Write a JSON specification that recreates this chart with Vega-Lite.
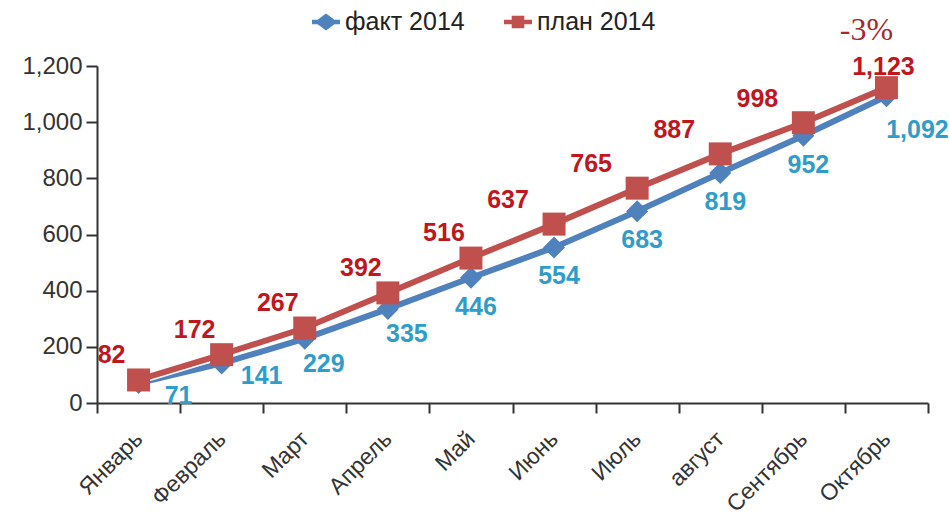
{
  "$schema": "https://vega.github.io/schema/vega-lite/v6.json",
  "autosize": "none",
  "width": 831,
  "height": 337,
  "padding": {"left": 97, "top": 66, "right": 21, "bottom": 118},
  "background": "white",
  "config": {
    "view": {"stroke": null},
    "font": "Liberation Sans",
    "axis": {"labelFont": "Liberation Sans", "labelFontSize": 24, "labelColor": "#333333", "domainColor": "#333333", "domainWidth": 2, "tickColor": "#333333", "tickWidth": 2, "grid": false, "title": null},
    "legend": {"labelFont": "Liberation Sans", "labelFontSize": 25, "labelColor": "#222222"}
  },
  "data": {
    "values": [
      {"month": "Январь", "series": "факт 2014", "value": 71},
      {"month": "Февраль", "series": "факт 2014", "value": 141},
      {"month": "Март", "series": "факт 2014", "value": 229},
      {"month": "Апрель", "series": "факт 2014", "value": 335},
      {"month": "Май", "series": "факт 2014", "value": 446},
      {"month": "Июнь", "series": "факт 2014", "value": 554},
      {"month": "Июль", "series": "факт 2014", "value": 683},
      {"month": "август", "series": "факт 2014", "value": 819},
      {"month": "Сентябрь", "series": "факт 2014", "value": 952},
      {"month": "Октябрь", "series": "факт 2014", "value": 1092},
      {"month": "Январь", "series": "план 2014", "value": 82},
      {"month": "Февраль", "series": "план 2014", "value": 172},
      {"month": "Март", "series": "план 2014", "value": 267},
      {"month": "Апрель", "series": "план 2014", "value": 392},
      {"month": "Май", "series": "план 2014", "value": 516},
      {"month": "Июнь", "series": "план 2014", "value": 637},
      {"month": "Июль", "series": "план 2014", "value": 765},
      {"month": "август", "series": "план 2014", "value": 887},
      {"month": "Сентябрь", "series": "план 2014", "value": 998},
      {"month": "Октябрь", "series": "план 2014", "value": 1123}
    ]
  },
  "encoding": {
    "x": {
      "field": "month", "type": "nominal",
      "sort": ["Январь", "Февраль", "Март", "Апрель", "Май", "Июнь", "Июль", "август", "Сентябрь", "Октябрь"],
      "scale": {"type": "band", "paddingInner": 0, "paddingOuter": 0},
      "axis": {"labelAngle": -45, "labelAlign": "right", "labelBaseline": "middle", "tickBand": "extent", "tickSize": 10, "labelPadding": 22, "labelFontSize": 23}
    },
    "y": {
      "field": "value", "type": "quantitative",
      "scale": {"domain": [0, 1200], "nice": false},
      "axis": {"values": [0, 200, 400, 600, 800, 1000, 1200], "format": ",.0f", "tickSize": 11, "labelPadding": 4, "labelFontSize": 24}
    }
  },
  "layer": [
    {
      "transform": [{"filter": "datum.series === 'факт 2014'"}],
      "mark": {"type": "line", "strokeWidth": 6},
      "encoding": {
        "color": {
          "field": "series", "type": "nominal",
          "scale": {"domain": ["факт 2014", "план 2014"], "range": ["#4f81bd", "#c0504d"]},
          "legend": {
            "title": null, "orient": "none", "direction": "horizontal", "legendX": 215, "legendY": -58,
            "padding": 0, "symbolSize": 784, "labelOffset": 5, "columnPadding": 39, "labelFontSize": 25,
            "encode": {"symbols": {"update": {
              "shape": {"signal": "datum.value === 'факт 2014' ? 'M-1,-0.16H-0.6L0,-0.6L0.6,-0.16H1V0.16H0.6L0,0.6L-0.6,0.16H-1Z' : 'M-1,-0.16H-0.45V-0.45H0.45V-0.16H1V0.16H0.45V0.45H-0.45V0.16H-1Z'"},
              "fill": {"signal": "datum.value === 'факт 2014' ? '#4f81bd' : '#c0504d'"},
              "stroke": {"value": "transparent"},
              "strokeWidth": {"value": 0},
              "opacity": {"value": 1}
            }}}
          }
        }
      }
    },
    {
      "transform": [{"filter": "datum.series === 'факт 2014'"}],
      "mark": {"type": "point", "shape": "diamond", "filled": true, "size": 484, "opacity": 1},
      "encoding": {"color": {"field": "series", "type": "nominal"}}
    },
    {
      "transform": [{"filter": "datum.series === 'план 2014'"}],
      "mark": {"type": "line", "strokeWidth": 9, "color": "white"},
      "encoding": {}
    },
    {
      "transform": [{"filter": "datum.series === 'план 2014'"}],
      "mark": {"type": "line", "strokeWidth": 6},
      "encoding": {"color": {"field": "series", "type": "nominal"}}
    },
    {
      "transform": [{"filter": "datum.series === 'план 2014'"}],
      "mark": {"type": "point", "shape": "square", "filled": true, "size": 529, "opacity": 1},
      "encoding": {"color": {"field": "series", "type": "nominal"}}
    },
    {
      "transform": [{"filter": "datum.series === 'факт 2014' && (datum.month === 'Январь' || datum.month === 'Февраль')"}],
      "mark": {"type": "text", "fontSize": 25, "fontWeight": "bold", "color": "#2f9dca", "dx": 40, "dy": 13, "align": "center", "baseline": "middle"},
      "encoding": {"text": {"field": "value", "type": "quantitative", "format": ",.0f"}}
    },
    {
      "transform": [{"filter": "datum.series === 'факт 2014' && (datum.month === 'Март' || datum.month === 'Апрель')"}],
      "mark": {"type": "text", "fontSize": 25, "fontWeight": "bold", "color": "#2f9dca", "dx": 19, "dy": 25, "align": "center", "baseline": "middle"},
      "encoding": {"text": {"field": "value", "type": "quantitative", "format": ",.0f"}}
    },
    {
      "transform": [{"filter": "datum.series === 'факт 2014' && indexof(['Май','Июнь','Июль','август','Сентябрь'], datum.month) >= 0"}],
      "mark": {"type": "text", "fontSize": 25, "fontWeight": "bold", "color": "#2f9dca", "dx": 5, "dy": 29, "align": "center", "baseline": "middle"},
      "encoding": {"text": {"field": "value", "type": "quantitative", "format": ",.0f"}}
    },
    {
      "transform": [{"filter": "datum.series === 'факт 2014' && datum.month === 'Октябрь'"}],
      "mark": {"type": "text", "fontSize": 25, "fontWeight": "bold", "color": "#2f9dca", "dx": 31, "dy": 34, "align": "center", "baseline": "middle"},
      "encoding": {"text": {"field": "value", "type": "quantitative", "format": ",.0f"}}
    },
    {
      "transform": [{"filter": "datum.series === 'план 2014' && indexof(['Январь','Февраль','Март','Апрель','Май'], datum.month) >= 0"}],
      "mark": {"type": "text", "fontSize": 25, "fontWeight": "bold", "color": "#c0161e", "dx": -27, "dy": -25, "align": "center", "baseline": "middle"},
      "encoding": {"text": {"field": "value", "type": "quantitative", "format": ",.0f"}}
    },
    {
      "transform": [{"filter": "datum.series === 'план 2014' && indexof(['Июнь','Июль','август','Сентябрь'], datum.month) >= 0"}],
      "mark": {"type": "text", "fontSize": 25, "fontWeight": "bold", "color": "#c0161e", "dx": -46, "dy": -24, "align": "center", "baseline": "middle"},
      "encoding": {"text": {"field": "value", "type": "quantitative", "format": ",.0f"}}
    },
    {
      "transform": [{"filter": "datum.series === 'план 2014' && datum.month === 'Октябрь'"}],
      "mark": {"type": "text", "fontSize": 25, "fontWeight": "bold", "color": "#c0161e", "dx": -3, "dy": -21, "align": "center", "baseline": "middle"},
      "encoding": {"text": {"field": "value", "type": "quantitative", "format": ",.0f"}}
    },
    {
      "transform": [{"filter": "datum.series === 'план 2014' && datum.month === 'Октябрь'"}],
      "mark": {"type": "text", "fontSize": 32, "font": "Liberation Serif", "color": "#a8282c", "dx": -20, "dy": -58, "align": "center", "baseline": "middle", "text": "-3%"}
    }
  ]
}
